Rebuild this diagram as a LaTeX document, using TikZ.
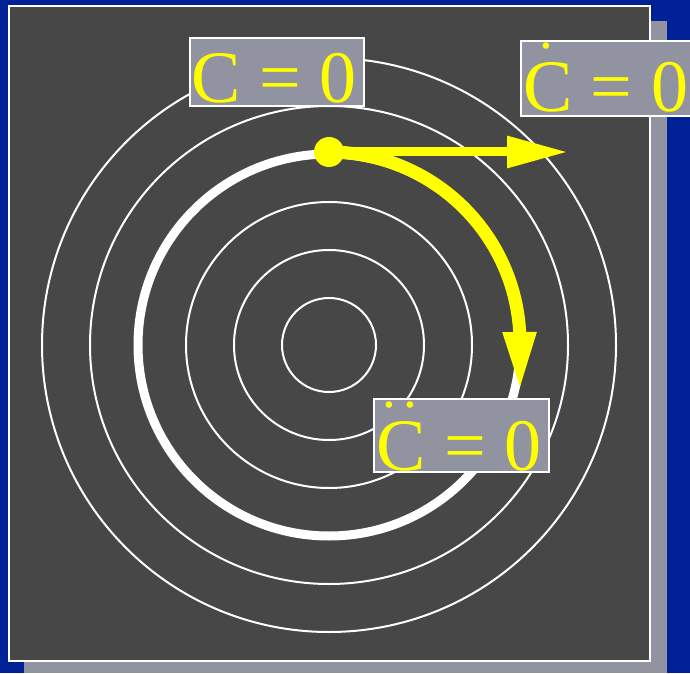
\documentclass[tikz,border=0pt]{standalone}
\usepackage{fontspec}
\setmainfont{Liberation Serif}
\usetikzlibrary{arrows.meta}
\definecolor{bgblue}{RGB}{0,32,150}
\definecolor{panel}{RGB}{71,71,71}
\definecolor{lblgrey}{RGB}{145,148,160}
\definecolor{yel}{RGB}{255,255,0}
\begin{document}
\begin{tikzpicture}[x=1pt,y=1pt,
  ring/.style={draw=white,line width=2pt},
  lbl/.style={fill=lblgrey,draw=white,line width=2pt},
  eq/.style={anchor=base west,inner sep=0pt,text=yel,font=\fontsize{74}{74}\selectfont},
  dotnode/.style={circle,fill=yel,inner sep=0pt,minimum size=30pt}]
\useasboundingbox (0,0) rectangle (690,673);
\fill[bgblue] (0,0) rectangle (690,673);
\fill[lblgrey] (24,0) rectangle (667,652);
\draw[fill=panel,draw=white,line width=2pt] (9,12) rectangle (650,667);
\coordinate (O) at (329,328);
\foreach \r in {47,95,143,239,287} \draw[ring] (O) circle[radius=\r];
\draw[draw=white,line width=9pt] (O) circle[radius=191];
% yellow arrows
\node[dotnode] (p) at (329,521) {};
\coordinate (h) at (568,521);
\coordinate (v) at (520,281);
\draw[draw=yel,line width=9pt,-{Triangle[length=61pt,width=30pt]}] (p.center) -- (h);
\draw[draw=yel,line width=13pt,-{Triangle[length=60pt,width=30pt]}] (p.center) arc[start angle=90,end angle=4,radius=191] -- (v);
% labels
\draw[lbl] (190,635) rectangle (364,567);
\draw[lbl] (521,632) rectangle (720,557);
\draw[lbl] (374,274) rectangle (549,201);
\node[eq] (t1) at (191,570) {C = 0};
\node[eq] (t2) at (523,561) {\rlap{\kern16.1pt\raisebox{63pt}{\fontsize{55}{55}\selectfont.}}C = 0};
\node[eq] (t3) at (376,203) {\rlap{\kern6.1pt\raisebox{63pt}{\fontsize{55}{55}\selectfont.\kern7.25pt.}}C = 0};
\end{tikzpicture}
\end{document}
